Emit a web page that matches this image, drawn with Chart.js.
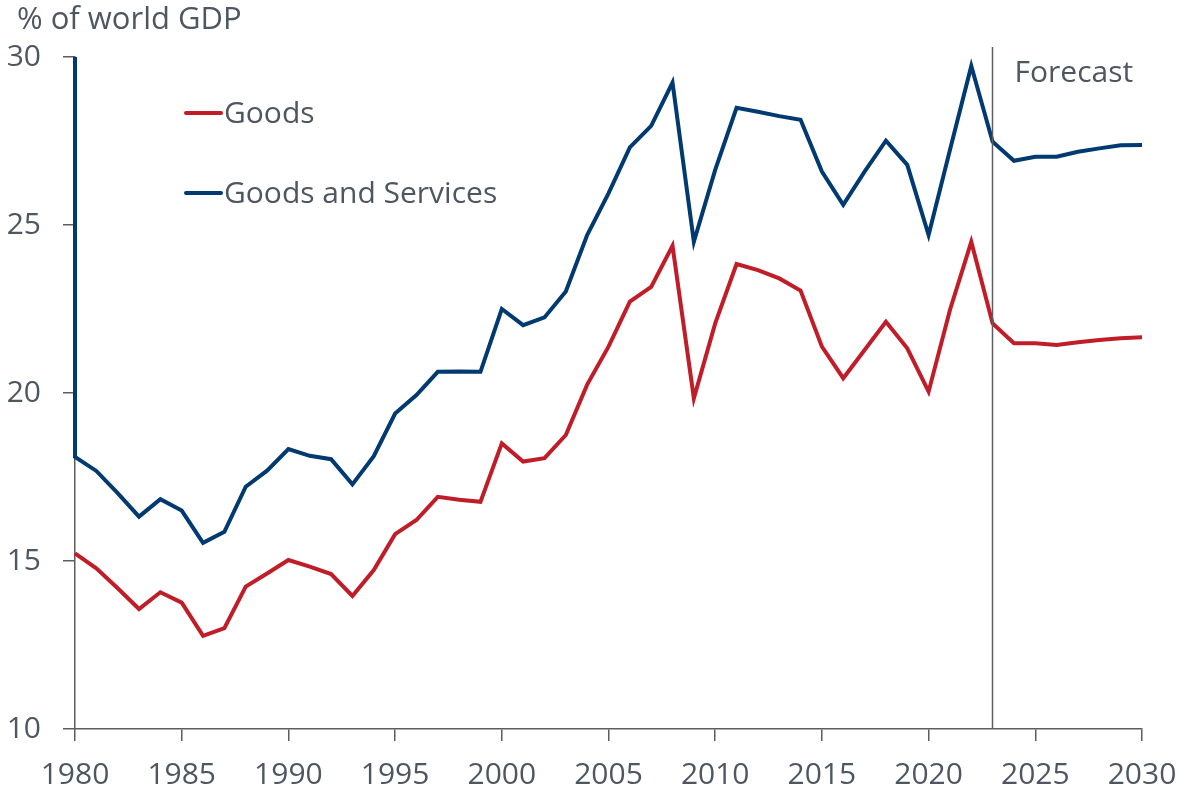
<!DOCTYPE html>
<html>
<head>
<meta charset="utf-8">
<script src="https://cdn.jsdelivr.net/npm/chart.js@4.4.1/dist/chart.umd.min.js"></script>
<style>
  html, body { margin: 0; padding: 0; background: #ffffff; }
  canvas { display: block; }
</style>
</head>
<body>
<canvas id="trade" width="1181" height="793"></canvas>
<script>
// Trade as a share of world GDP, 1980-2030 (2023 onward is forecast)
const years = [
  1980, 1981, 1982, 1983, 1984, 1985, 1986, 1987, 1988, 1989,
  1990, 1991, 1992, 1993, 1994, 1995, 1996, 1997, 1998, 1999,
  2000, 2001, 2002, 2003, 2004, 2005, 2006, 2007, 2008, 2009,
  2010, 2011, 2012, 2013, 2014, 2015, 2016, 2017, 2018, 2019,
  2020, 2021, 2022, 2023, 2024, 2025, 2026, 2027, 2028, 2029, 2030
];

const goods = [
  15.23, 14.78, 14.19, 13.57, 14.07, 13.76, 12.77, 13.00, 14.24, 14.63,
  15.03, 14.83, 14.61, 13.96, 14.73, 15.80, 16.22, 16.91, 16.82, 16.76,
  18.50, 17.96, 18.06, 18.75, 20.25, 21.38, 22.72, 23.16, 24.38, 19.84,
  22.07, 23.84, 23.66, 23.41, 23.05, 21.38, 20.44, 21.28, 22.12, 21.33,
  20.04, 22.47, 24.50, 22.07, 21.48, 21.48, 21.43, 21.51, 21.58, 21.63, 21.66
];

const goodsAndServices = [
  18.10, 17.68, 17.02, 16.32, 16.84, 16.50, 15.54, 15.87, 17.21, 17.69,
  18.33, 18.13, 18.03, 17.28, 18.12, 19.39, 19.94, 20.63, 20.64, 20.63,
  22.50, 22.02, 22.25, 23.02, 24.70, 25.94, 27.31, 27.95, 29.24, 24.50,
  26.64, 28.49, 28.37, 28.24, 28.13, 26.59, 25.60, 26.59, 27.51, 26.79,
  24.70, 27.23, 29.73, 27.48, 26.91, 27.03, 27.03, 27.18, 27.28, 27.37, 27.38
];

// the goods-and-services series opens with a point at the top of the scale in 1980
const goodsAndServicesOpening = { year: 1980, value: 30 };

const yTicks = [10, 15, 20, 25, 30];
const xTicks = [1980, 1985, 1990, 1995, 2000, 2005, 2010, 2015, 2020, 2025, 2030];
const forecastStart = 2023;

const seriesNames = ['Goods', 'Goods and Services'];
const unitLabel = '% of world GDP';
const forecastLabel = 'Forecast';

const RED = '#c01d28';
const BLUE = '#003a70';
const TEXT = '#4e5761';
const AXIS = '#5d5d5d';
const FONT = '"Open Sans", "DejaVu Sans", sans-serif';

const goodsPoints = years.map((y, i) => ({ x: y, y: goods[i] }));
const gsPoints = [{ x: goodsAndServicesOpening.year, y: goodsAndServicesOpening.value }]
  .concat(years.map((y, i) => ({ x: y, y: goodsAndServices[i] })));

const annotations = {
  id: 'annotations',
  afterDatasetsDraw(chart) {
    const ctx = chart.ctx;
    const xs = chart.scales.x;
    const area = chart.chartArea;
    ctx.save();
    // forecast divider
    const fx = Math.round(xs.getPixelForValue(forecastStart)) - 0.5;
    ctx.strokeStyle = AXIS;
    ctx.lineWidth = 1.5;
    ctx.beginPath();
    ctx.moveTo(fx, area.top - 10);
    ctx.lineTo(fx, area.bottom);
    ctx.stroke();

    ctx.fillStyle = TEXT;
    ctx.textBaseline = 'alphabetic';
    ctx.textAlign = 'left';
    ctx.font = '30px ' + FONT;
    ctx.fillText(forecastLabel, fx + 22, 82);

    // unit label
    ctx.font = '31px ' + FONT;
    ctx.fillText(unitLabel, 17, 29);

    // legend
    ctx.font = '30px ' + FONT;
    const legend = [
      { name: seriesNames[0], color: RED, y: 113 },
      { name: seriesNames[1], color: BLUE, y: 193 }
    ];
    legend.forEach(item => {
      ctx.strokeStyle = item.color;
      ctx.lineWidth = 4;
      ctx.lineCap = 'round';
      ctx.beginPath();
      ctx.moveTo(186, item.y);
      ctx.lineTo(221, item.y);
      ctx.stroke();
      ctx.fillStyle = TEXT;
      ctx.fillText(item.name, 224, item.y + 10);
    });
    ctx.restore();
  }
};

new Chart(document.getElementById('trade'), {
  type: 'line',
  data: {
    datasets: [
      {
        label: seriesNames[0],
        data: goodsPoints,
        borderColor: RED,
        backgroundColor: RED,
        borderWidth: 4,
        pointRadius: 0,
        tension: 0,
        fill: false
      },
      {
        label: seriesNames[1],
        data: gsPoints,
        borderColor: BLUE,
        backgroundColor: BLUE,
        borderWidth: 4,
        pointRadius: 0,
        tension: 0,
        fill: false
      }
    ]
  },
  options: {
    responsive: false,
    devicePixelRatio: 1,
    animation: false,
    events: [],
    clip: false,
    layout: { padding: { top: 57, right: 39, left: 0, bottom: 0 } },
    plugins: {
      legend: { display: false },
      title: { display: false },
      tooltip: { enabled: false }
    },
    scales: {
      x: {
        type: 'linear',
        min: 1980,
        max: 2030,
        afterBuildTicks(scale) { scale.ticks = xTicks.map(v => ({ value: v })); },
        afterFit(scale) {
          scale.height = 64;
          scale.paddingLeft = 0;
          scale.paddingRight = 0;
        },
        ticks: {
          callback: v => String(v),
          color: TEXT,
          font: { family: FONT, size: 30 },
          padding: 16,
          maxRotation: 0,
          autoSkip: false
        },
        grid: {
          display: true,
          drawOnChartArea: false,
          drawTicks: true,
          tickLength: 12,
          color: AXIS,
          lineWidth: 1.5
        },
        border: { display: true, color: AXIS, width: 1.5 }
      },
      y: {
        type: 'linear',
        min: 10,
        max: 30,
        afterBuildTicks(scale) { scale.ticks = yTicks.map(v => ({ value: v })); },
        afterFit(scale) {
          scale.width = 75;
          scale.paddingTop = 0;
          scale.paddingBottom = 0;
        },
        ticks: {
          callback: v => String(v),
          color: TEXT,
          font: { family: FONT, size: 30 },
          padding: 22
        },
        grid: {
          display: true,
          drawOnChartArea: false,
          drawTicks: true,
          tickLength: 12,
          color: AXIS,
          lineWidth: 1.5
        },
        border: { display: true, color: AXIS, width: 1.5 }
      }
    }
  },
  plugins: [annotations]
});
</script>
</body>
</html>
